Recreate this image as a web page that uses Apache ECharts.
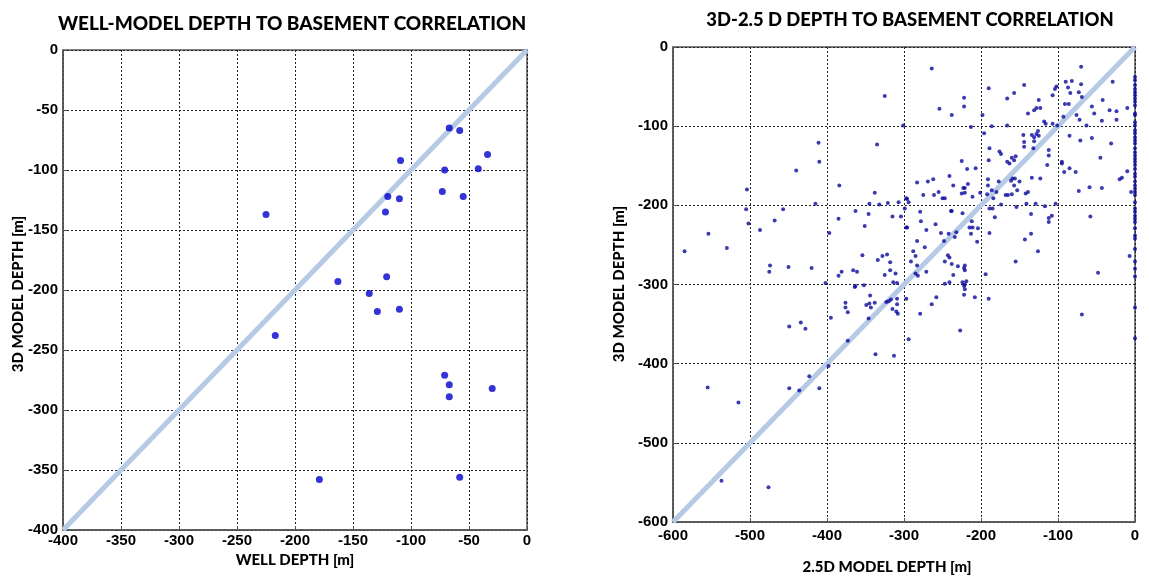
<!DOCTYPE html>
<html>
<head>
<meta charset="utf-8">
<script src="https://cdn.jsdelivr.net/npm/echarts@6/dist/echarts.min.js"></script>
<style>html,body{margin:0;padding:0;background:#fff;}#c{width:1149px;height:579px;}</style>
</head>
<body>
<div id="c"></div>
<script>
// ---- Left chart: well depth vs 3D model depth ----
const wellDepth = [-225,-217,-163,-179,-136,-129,-121,-110,-122,-120,-110,-109,-67,-58,-71,-73,-55,-42,-34,-71,-67,-67,-30,-58];
const wellModelDepth = [-137,-238,-193,-358,-203,-218,-189,-216,-135,-122,-124,-92,-65,-67,-100,-118,-122,-99,-87,-271,-279,-289,-282,-356];
const leftTicks = {min:-400, max:0, interval:50};

// ---- Right chart: 2.5D model depth vs 3D model depth ----
const model25D = [
-325,-301,-335,-411,-410,-440,-384,-338,-504,-505,-502,-554,-530,-585,-487,-468,-457,-415,-397,-385,-363,-351,-346,-345,-332,-321,-315,-307,-304,-299,-296,-296,-474,-475,-450,-420,-402,-385,-381,-366,-361,-354,-334,-328,-322,-318,-325,-318,-314,-311,-309,-352,-364,
-363,-376,-376,-373,-395,-349,-344,-345,-343,-338,-346,-373,-337,-323,-320,-317,-315,-309,-309,-310,-308,-313,-297,-294,-449,-434,-428,-398,-423,-449,-436,-410,-555,-515,-537,-476,
-264,-70,-190,-144,-157,-166,-222,-222,-254,-238,-198,-213,-186,-166,-196,-139,-131,-128,-125,-123,-118,-116,-107,-104,-102,-107,-101,-93,-91,-86,-90,-82,-87,-70,-84,-73,-69,-76,-72,-63,-71,-85,-56,-53,-42,-43,-33,-29,-24,-24,-10,-56,-45,-31,-10,-17,-20,-5,-7,-48,-58,-73,-59,-43,-95,-95,-92,-77,-85,
-145,-144,-144,-134,-131,-128,-131,-126,-125,-132,-112,-112,-114,-123,-134,-139,-142,-153,-150,-157,-161,-160,-157,-155,-163,-166,-174,-176,-189,-190,-191,-225,-218,-207,-241,-236,-223,-221,-221,-217,-211,-201,-192,-191,-186,-184,-180,-177,-168,-165,-160,-159,-156,-174,-154,-141,-135,-129,-117,-112,-112,-108,-103,-135,-143,-126,-155,-189,-182,-189,-185,-194,
-283,-269,-262,-275,-261,-255,-250,-247,-225,-297,-294,-297,-279,-278,-271,-283,-288,-285,-291,-283,-285,-282,-271,-273,-259,-252,-248,-239,-238,-242,-234,-232,-224,-212,-215,-211,-213,-204,-205,-243,-241,-247,-238,-230,-221,-222,-221,-236,-247,-241,-224,-221,-219,
-279,-264,-258,-222,-221,-222,-227,-208,-190,-69,
0,0,0,0,0,0,0,0,0,0,0,0,0,0,0,0,0,0,0,0,0,0,0,0,0,0,0,0,0,0,0,0,0,0,0,0,0,0,0,0,0,0,0,0,0,0,0
];
const model3D = [
-62,-99,-123,-121,-145,-156,-175,-184,-180,-205,-223,-236,-254,-258,-231,-219,-205,-198,-235,-217,-207,-226,-211,-198,-199,-197,-214,-196,-214,-204,-192,-228,-276,-284,-278,-279,-298,-289,-284,-282,-284,-263,-269,-264,-262,-272,-288,-282,-297,-286,-298,-301,-303,
-302,-323,-329,-335,-342,-326,-314,-324,-329,-323,-343,-371,-388,-322,-321,-319,-331,-318,-325,-334,-337,-390,-318,-369,-353,-348,-356,-403,-416,-431,-434,-431,-430,-449,-548,-556,
-27,-25,-52,-48,-58,-65,-64,-75,-78,-86,-86,-101,-100,-99,-109,-84,-80,-77,-67,-77,-94,-97,-61,-53,-50,-97,-99,-88,-72,-72,-44,-43,-51,-47,-58,-57,-63,-86,-92,-99,-118,-112,-75,-84,-67,-93,-80,-44,-81,-92,-77,-115,-140,-122,-157,-165,-167,-183,-264,-285,-214,-182,-177,-178,-145,-147,-158,-158,-153,
-111,-120,-126,-111,-114,-110,-119,-106,-112,-128,-130,-137,-149,-166,-165,-183,-185,-181,-170,-175,-169,-140,-143,-138,-147,-145,-135,-132,-128,-143,-167,-144,-154,-153,-163,-175,-178,-178,-184,-173,-189,-184,-186,-175,-181,-191,-183,-170,-187,-187,-186,-166,-166,-199,-202,-198,-211,-198,-201,-216,-221,-213,-198,-236,-243,-258,-271,-235,-215,-204,-204,-287,
-171,-170,-167,-187,-187,-183,-191,-191,-185,-191,-196,-228,-208,-220,-231,-245,-258,-264,-271,-276,-286,-289,-284,-253,-224,-235,-245,-207,-207,-236,-240,-234,-210,-220,-228,-228,-236,-229,-246,-263,-266,-271,-274,-277,-276,-279,-282,-288,-299,-297,-297,-300,-296,
-337,-325,-316,-302,-306,-313,-358,-316,-318,-338,
-38,-42,-48,-53,-57,-61,-65,-69,-74,-84,-86,-95,-99,-105,-109,-114,-118,-122,-128,-133,-137,-141,-145,-149,-154,-160,-164,-170,-175,-179,-183,-187,-196,-204,-208,-213,-217,-221,-229,-238,-242,-255,-271,-280,-290,-329,-368
];
const rightTicks = {min:-600, max:0, interval:100};

const leftPts = wellDepth.map((x,i)=>[x, wellModelDepth[i]]);
const rightPts = model25D.map((x,i)=>[x, model3D[i]]);

const tickFont = {fontFamily:'"Liberation Sans", Arial, sans-serif', fontWeight:'bold', fontSize:15, color:'#000'};
const nameFont = {fontFamily:'Lato', fontWeight:900, fontSize:15, fill:'#000'};

function mkX(idx, t, m){
  return {gridIndex:idx, type:'value', min:t.min, max:t.max, interval:t.interval,
    axisLine:{show:true, onZero:false, lineStyle:{color:'#555', width:1.5}},
    axisTick:{show:true, inside:true, length:4, lineStyle:{color:'#555'}},
    axisLabel:Object.assign({margin:m}, tickFont),
    splitLine:{show:true, lineStyle:{color:'#222', type:[2,2], width:1}}};
}
function mkY(idx, t){
  return {gridIndex:idx, type:'value', min:t.min, max:t.max, interval:t.interval,
    axisLine:{show:true, onZero:false, lineStyle:{color:'#555', width:1.5}},
    axisTick:{show:true, inside:true, length:4, lineStyle:{color:'#555'}},
    axisLabel:Object.assign({margin:5}, tickFont),
    splitLine:{show:true, lineStyle:{color:'#222', type:[2,2], width:1}}};
}

const chart = echarts.init(document.getElementById('c'), null, {renderer:'canvas'});
chart.setOption({
  animation:false,
  backgroundColor:'#fff',
  title:[
    {text:'WELL-MODEL DEPTH TO BASEMENT CORRELATION', left:287, top:9, textAlign:'center',
     textStyle:{fontFamily:'Lato', fontWeight:900, fontSize:19, color:'#000'}},
    {text:'3D-2.5 D DEPTH TO BASEMENT CORRELATION', left:905, top:6, textAlign:'center',
     textStyle:{fontFamily:'Lato', fontWeight:900, fontSize:18.4, color:'#000'}}
  ],
  grid:[
    {left:63, top:50, width:464, height:480, show:true, borderColor:'#555', borderWidth:1.5, backgroundColor:'#fff'},
    {left:673, top:47, width:462, height:475, show:true, borderColor:'#555', borderWidth:1.5, backgroundColor:'#fff'}
  ],
  xAxis:[mkX(0,leftTicks,3), mkX(1,rightTicks,6)],
  yAxis:[mkY(0,leftTicks), mkY(1,rightTicks)],
  graphic:[
    {type:'text', position:[295,560], style:Object.assign({text:'WELL DEPTH [m]', textAlign:'center', textVerticalAlign:'middle'}, nameFont)},
    {type:'text', position:[18,294], rotation:Math.PI/2, style:Object.assign({text:'3D MODEL DEPTH [m]', textAlign:'center', textVerticalAlign:'middle'}, nameFont)},
    {type:'text', position:[887,567], style:Object.assign({text:'2.5D MODEL DEPTH [m]', textAlign:'center', textVerticalAlign:'middle'}, nameFont)},
    {type:'text', position:[619,284], rotation:Math.PI/2, style:Object.assign({text:'3D MODEL DEPTH [m]', textAlign:'center', textVerticalAlign:'middle'}, nameFont)}
  ],
  series:[
    {type:'line', xAxisIndex:0, yAxisIndex:0, data:[[leftTicks.min,leftTicks.min],[0,0]], showSymbol:false, symbol:'none',
     lineStyle:{color:'#b6cae6', width:5}, z:2, silent:true},
    {type:'scatter', xAxisIndex:0, yAxisIndex:0, data:leftPts, symbol:'circle', symbolSize:7,
     itemStyle:{color:'#0000cc'}, z:3},
    {type:'line', xAxisIndex:1, yAxisIndex:1, data:[[rightTicks.min,rightTicks.min],[0,0]], showSymbol:false, symbol:'none',
     lineStyle:{color:'#b6cae6', width:5}, z:2, silent:true},
    {type:'scatter', xAxisIndex:1, yAxisIndex:1, data:rightPts, symbol:'circle', symbolSize:4,
     itemStyle:{color:'#0a0a9c'}, z:3}
  ]
});
</script>
</body>
</html>
